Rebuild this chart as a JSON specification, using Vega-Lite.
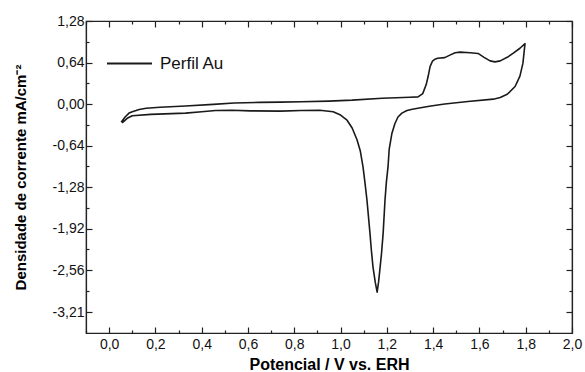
{
  "$schema": "https://vega.github.io/schema/vega-lite/v6.json",
  "width": 486,
  "height": 312,
  "autosize": {"type": "none"},
  "padding": {"left": 86, "top": 21, "right": 13, "bottom": 39},
  "background": "white",
  "config": {
    "view": {"stroke": "#222", "strokeWidth": 1.2},
    "font": "Liberation Sans",
    "axis": {
      "domainColor": "#222", "tickColor": "#222", "labelColor": "#111", "titleColor": "#000",
      "grid": false, "domainWidth": 1.2, "tickWidth": 1.2,
      "labelFont": "Liberation Sans", "titleFont": "Liberation Sans"
    }
  },
  "data": {"values": [
    {"i": 1, "E": 0.052, "j": -0.28},
    {"i": 2, "E": 0.069, "j": -0.2},
    {"i": 3, "E": 0.086, "j": -0.14},
    {"i": 4, "E": 0.1, "j": -0.12},
    {"i": 5, "E": 0.13, "j": -0.085},
    {"i": 6, "E": 0.16, "j": -0.065},
    {"i": 7, "E": 0.22, "j": -0.05},
    {"i": 8, "E": 0.33, "j": -0.03},
    {"i": 9, "E": 0.45, "j": -0.005},
    {"i": 10, "E": 0.54, "j": 0.015},
    {"i": 11, "E": 0.65, "j": 0.025},
    {"i": 12, "E": 0.74, "j": 0.03},
    {"i": 13, "E": 0.83, "j": 0.035},
    {"i": 14, "E": 0.95, "j": 0.045},
    {"i": 15, "E": 1.05, "j": 0.06},
    {"i": 16, "E": 1.18, "j": 0.09},
    {"i": 17, "E": 1.3, "j": 0.105},
    {"i": 18, "E": 1.335, "j": 0.11},
    {"i": 19, "E": 1.355, "j": 0.16},
    {"i": 20, "E": 1.37, "j": 0.3},
    {"i": 21, "E": 1.378, "j": 0.42},
    {"i": 22, "E": 1.387, "j": 0.58},
    {"i": 23, "E": 1.397, "j": 0.66},
    {"i": 24, "E": 1.407, "j": 0.69},
    {"i": 25, "E": 1.42, "j": 0.705},
    {"i": 26, "E": 1.45, "j": 0.715},
    {"i": 27, "E": 1.47, "j": 0.75},
    {"i": 28, "E": 1.495, "j": 0.79},
    {"i": 29, "E": 1.516, "j": 0.8},
    {"i": 30, "E": 1.56, "j": 0.79},
    {"i": 31, "E": 1.594, "j": 0.78},
    {"i": 32, "E": 1.62, "j": 0.72},
    {"i": 33, "E": 1.646, "j": 0.665},
    {"i": 34, "E": 1.667, "j": 0.65},
    {"i": 35, "E": 1.69, "j": 0.665},
    {"i": 36, "E": 1.72, "j": 0.72},
    {"i": 37, "E": 1.745, "j": 0.78},
    {"i": 38, "E": 1.775, "j": 0.86},
    {"i": 39, "E": 1.797, "j": 0.93},
    {"i": 40, "E": 1.793, "j": 0.8},
    {"i": 41, "E": 1.788, "j": 0.63},
    {"i": 42, "E": 1.775, "j": 0.43},
    {"i": 43, "E": 1.754, "j": 0.27},
    {"i": 44, "E": 1.72, "j": 0.15},
    {"i": 45, "E": 1.69, "j": 0.1},
    {"i": 46, "E": 1.66, "j": 0.075},
    {"i": 47, "E": 1.55, "j": 0.04},
    {"i": 48, "E": 1.45, "j": 0.0},
    {"i": 49, "E": 1.39, "j": -0.03},
    {"i": 50, "E": 1.34, "j": -0.06},
    {"i": 51, "E": 1.31, "j": -0.08},
    {"i": 52, "E": 1.287, "j": -0.1},
    {"i": 53, "E": 1.265, "j": -0.14},
    {"i": 54, "E": 1.248, "j": -0.2},
    {"i": 55, "E": 1.235, "j": -0.3},
    {"i": 56, "E": 1.222, "j": -0.45},
    {"i": 57, "E": 1.21, "j": -0.7},
    {"i": 58, "E": 1.205, "j": -0.97},
    {"i": 59, "E": 1.198, "j": -1.2},
    {"i": 60, "E": 1.192, "j": -1.48},
    {"i": 61, "E": 1.184, "j": -1.99},
    {"i": 62, "E": 1.177, "j": -2.3},
    {"i": 63, "E": 1.171, "j": -2.51},
    {"i": 64, "E": 1.164, "j": -2.75},
    {"i": 65, "E": 1.158, "j": -2.9},
    {"i": 66, "E": 1.15, "j": -2.75},
    {"i": 67, "E": 1.14, "j": -2.51},
    {"i": 68, "E": 1.133, "j": -2.25},
    {"i": 69, "E": 1.127, "j": -1.99},
    {"i": 70, "E": 1.114, "j": -1.48},
    {"i": 71, "E": 1.105, "j": -1.2},
    {"i": 72, "E": 1.097, "j": -0.97},
    {"i": 73, "E": 1.085, "j": -0.72},
    {"i": 74, "E": 1.071, "j": -0.55},
    {"i": 75, "E": 1.05, "j": -0.37},
    {"i": 76, "E": 1.028, "j": -0.25},
    {"i": 77, "E": 1.0, "j": -0.17},
    {"i": 78, "E": 0.968, "j": -0.12},
    {"i": 79, "E": 0.91, "j": -0.095},
    {"i": 80, "E": 0.83, "j": -0.1},
    {"i": 81, "E": 0.74, "j": -0.11},
    {"i": 82, "E": 0.61, "j": -0.105},
    {"i": 83, "E": 0.53, "j": -0.095},
    {"i": 84, "E": 0.46, "j": -0.1},
    {"i": 85, "E": 0.4, "j": -0.12},
    {"i": 86, "E": 0.33, "j": -0.14},
    {"i": 87, "E": 0.18, "j": -0.16},
    {"i": 88, "E": 0.1, "j": -0.18},
    {"i": 89, "E": 0.078, "j": -0.22},
    {"i": 90, "E": 0.056, "j": -0.29}
  ]},
  "resolve": {"axis": {"x": "independent", "y": "independent"}},
  "layer": [
    {
      "mark": {"type": "line", "strokeWidth": 1.6, "strokeJoin": "round"},
      "encoding": {
        "x": {"field": "E", "type": "quantitative",
          "scale": {"domain": [-0.1, 2.0], "nice": false, "zero": false},
          "axis": {"orient": "bottom", "values": [0, 0.2, 0.4, 0.6, 0.8, 1.0, 1.2, 1.4, 1.6, 1.8, 2.0],
            "labelExpr": "replace(format(datum.value, '.1f'), '.', ',')",
            "tickSize": -6, "labelPadding": 10, "labelFontSize": 14, "labelFlush": false,
            "title": "Potencial / V vs. ERH", "titleFontSize": 16, "titleFontWeight": "bold", "titlePadding": 5}},
        "y": {"field": "j", "type": "quantitative",
          "scale": {"domain": [-3.53, 1.28], "nice": false, "zero": false},
          "axis": {"orient": "left", "values": [1.28, 0.64, 0, -0.64, -1.28, -1.92, -2.56, -3.21],
            "labelExpr": "replace(replace(format(datum.value, '.2f'), '.', ','), '−', '-')",
            "tickSize": -6, "labelPadding": 8, "labelFontSize": 14, "labelFlush": false,
            "title": "Densidade de corrente mA/cm⁻²", "titleFontSize": 15, "titleFontWeight": "bold", "titlePadding": 24}},
        "order": {"field": "i", "type": "quantitative"},
        "color": {"datum": "Perfil Au", "type": "nominal", "scale": {"range": ["#1a1a1a"]},
          "legend": {"title": null, "orient": "none", "legendX": 20, "legendY": 19,
            "symbolType": "stroke", "symbolSize": 2025, "symbolStrokeWidth": 1.8,
            "labelFontSize": 17, "labelFont": "Liberation Sans", "labelColor": "#111", "labelOffset": 7}}
      }
    },
    {
      "mark": {"type": "point", "opacity": 0},
      "encoding": {
        "x": {"field": "E", "type": "quantitative",
          "axis": {"orient": "bottom", "values": [-0.1, 0.1, 0.3, 0.5, 0.7, 0.9, 1.1, 1.3, 1.5, 1.7, 1.9],
            "tickSize": -3, "labels": false, "domain": false, "title": null}},
        "y": {"field": "j", "type": "quantitative",
          "axis": {"orient": "left", "values": [0.96, 0.32, -0.32, -0.96, -1.6, -2.24, -2.88],
            "tickSize": -3, "labels": false, "domain": false, "title": null}}
      }
    },
    {
      "mark": {"type": "point", "opacity": 0},
      "encoding": {
        "x": {"field": "E", "type": "quantitative",
          "axis": {"orient": "top", "values": [0, 0.2, 0.4, 0.6, 0.8, 1.0, 1.2, 1.4, 1.6, 1.8, 2.0],
            "tickSize": -6, "labels": false, "title": null}},
        "y": {"field": "j", "type": "quantitative",
          "axis": {"orient": "right", "values": [1.28, 0.64, 0, -0.64, -1.28, -1.92, -2.56, -3.21],
            "tickSize": -6, "labels": false, "title": null}}
      }
    },
    {
      "mark": {"type": "point", "opacity": 0},
      "encoding": {
        "x": {"field": "E", "type": "quantitative",
          "axis": {"orient": "top", "values": [-0.1, 0.1, 0.3, 0.5, 0.7, 0.9, 1.1, 1.3, 1.5, 1.7, 1.9],
            "tickSize": -3, "labels": false, "domain": false, "title": null}},
        "y": {"field": "j", "type": "quantitative",
          "axis": {"orient": "right", "values": [0.96, 0.32, -0.32, -0.96, -1.6, -2.24, -2.88],
            "tickSize": -3, "labels": false, "domain": false, "title": null}}
      }
    }
  ]
}
